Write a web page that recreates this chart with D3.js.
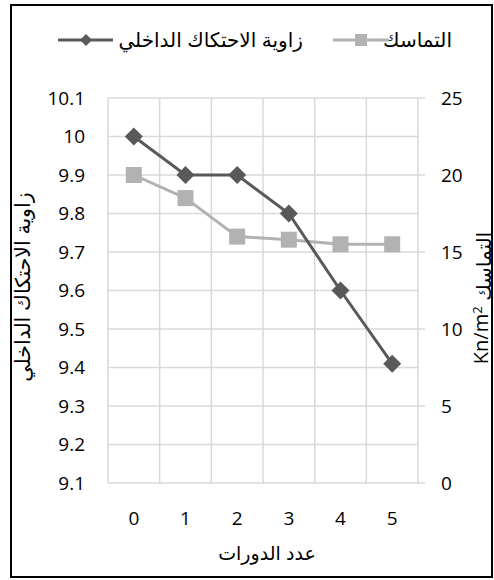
<!DOCTYPE html>
<html>
<head>
<meta charset="utf-8">
<script src="https://cdn.jsdelivr.net/npm/d3@7/dist/d3.min.js"></script>
<style>
  html, body { margin: 0; padding: 0; background: #fff; }
  svg { display: block; }
</style>
</head>
<body>
<svg id="chart" width="494" height="580"></svg>
<script>
// Number of cycles (x categories)
const cycles = [0, 1, 2, 3, 4, 5];
// Internal friction angle (left axis)
const frictionAngle = [10.0, 9.9, 9.9, 9.8, 9.6, 9.41];
// Cohesion, Kn/m² (right axis)
const cohesion = [20.0, 18.5, 16.0, 15.8, 15.5, 15.5];
// Axis ticks
const leftTicks = [9.1, 9.2, 9.3, 9.4, 9.5, 9.6, 9.7, 9.8, 9.9, 10.0, 10.1];
const rightTicks = [0, 5, 10, 15, 20, 25];

const frictionName = "زاوية الاحتكاك الداخلي";
const cohesionName = "التماسك";
const xTitle = "عدد الدورات";

const darkColor = "#595959";
const lightColor = "#b2b2b2";
const gridColor = "#d9d9d9";
const numFont = "'Open Sans', 'Liberation Sans', sans-serif";
const arFont = "'Liberation Sans', 'DejaVu Sans', sans-serif";

const svg = d3.select("#chart");

// Outer frame
svg.append("rect")
  .attr("x", 11).attr("y", 5).attr("width", 481).attr("height", 572)
  .attr("fill", "#fff").attr("stroke", "#000").attr("stroke-width", 2);

const plot = { left: 108, right: 418, top: 98, bottom: 483 };

const x = d3.scaleBand().domain(cycles).range([plot.left, plot.right]).padding(0);
const yL = d3.scaleLinear().domain([9.1, 10.1]).range([plot.bottom, plot.top]);
const yR = d3.scaleLinear().domain([0, 25]).range([plot.bottom, plot.top]);
const cx = d => x(d) + x.bandwidth() / 2;

// Horizontal gridlines
svg.append("g").selectAll("line").data(leftTicks).join("line")
  .attr("x1", plot.left).attr("x2", plot.right)
  .attr("y1", d => yL(d)).attr("y2", d => yL(d))
  .attr("stroke", gridColor).attr("stroke-width", 1.5);

// Vertical gridlines between categories
const bounds = cycles.map(c => x(c)).concat([plot.right]);
svg.append("g").selectAll("line").data(bounds).join("line")
  .attr("x1", d => d).attr("x2", d => d)
  .attr("y1", plot.top).attr("y2", plot.bottom)
  .attr("stroke", gridColor).attr("stroke-width", 1.5);

// Right axis tick marks
svg.append("g").selectAll("line").data(rightTicks).join("line")
  .attr("x1", plot.right).attr("x2", plot.right + 7)
  .attr("y1", d => yR(d)).attr("y2", d => yR(d))
  .attr("stroke", gridColor).attr("stroke-width", 1.5);

// Left tick labels
svg.append("g").selectAll("text").data(leftTicks).join("text")
  .attr("x", 85).attr("y", d => yL(d)).attr("dy", "0.36em")
  .attr("text-anchor", "end")
  .style("font-family", numFont).style("font-size", "19px").attr("fill", "#000")
  .text(d => d3.format("~g")(d));

// Right tick labels
svg.append("g").selectAll("text").data(rightTicks).join("text")
  .attr("x", 441).attr("y", d => yR(d)).attr("dy", "0.36em")
  .attr("text-anchor", "start")
  .style("font-family", numFont).style("font-size", "19px").attr("fill", "#000")
  .text(d => d);

// X tick labels
svg.append("g").selectAll("text").data(cycles).join("text")
  .attr("x", d => cx(d)).attr("y", 518).attr("dy", "0.36em")
  .attr("text-anchor", "middle")
  .style("font-family", numFont).style("font-size", "19px").attr("fill", "#000")
  .text(d => d);

// X axis title
svg.append("text")
  .attr("x", (plot.left + plot.right) / 2 + 4).attr("y", 553).attr("dy", "0.36em")
  .attr("text-anchor", "middle")
  .style("font-family", arFont).style("font-size", "19px").attr("fill", "#000")
  .text(xTitle);

// Left axis title
svg.append("text")
  .attr("transform", `translate(23,287) rotate(-90)`)
  .attr("dy", "0.36em").attr("text-anchor", "middle")
  .style("font-family", arFont).style("font-size", "20.5px").attr("fill", "#000")
  .text(frictionName);

// Right axis title
const rt = svg.append("text")
  .attr("transform", `translate(481,298) rotate(-90)`)
  .attr("dy", "0.36em").attr("text-anchor", "middle")
  .style("font-family", numFont).style("font-size", "20px").attr("fill", "#000");
rt.append("tspan").text("Kn/m");
rt.append("tspan").attr("dy", "-0.45em").style("font-size", "13px").text("2");
rt.append("tspan").attr("dy", "0.45em").style("font-family", arFont).text(" " + cohesionName);

// Series lines
const lineL = d3.line().x((d, i) => cx(cycles[i])).y(d => yL(d));
const lineR = d3.line().x((d, i) => cx(cycles[i])).y(d => yR(d));

svg.append("path").datum(cohesion).attr("d", lineR)
  .attr("fill", "none").attr("stroke", lightColor).attr("stroke-width", 3);
svg.append("g").selectAll("rect").data(cohesion).join("rect")
  .attr("x", (d, i) => cx(cycles[i]) - 8).attr("y", d => yR(d) - 8)
  .attr("width", 16).attr("height", 16).attr("fill", lightColor);

svg.append("path").datum(frictionAngle).attr("d", lineL)
  .attr("fill", "none").attr("stroke", darkColor).attr("stroke-width", 3);
const diamond = s => `M0,${-s}L${s},0L0,${s}L${-s},0Z`;
svg.append("g").selectAll("path").data(frictionAngle).join("path")
  .attr("transform", (d, i) => `translate(${cx(cycles[i])},${yL(d)})`)
  .attr("d", diamond(9)).attr("fill", darkColor);

// Legend
const legend = svg.append("g");
const legendY = 40;
// cohesion item
legend.append("line").attr("x1", 333).attr("x2", 389).attr("y1", legendY).attr("y2", legendY)
  .attr("stroke", lightColor).attr("stroke-width", 3);
legend.append("rect").attr("x", 355).attr("y", legendY - 6).attr("width", 12).attr("height", 12)
  .attr("fill", lightColor);
legend.append("text").attr("x", 452).attr("y", legendY).attr("dy", "0.36em")
  .attr("text-anchor", "end")
  .style("font-family", arFont).style("font-size", "20px").attr("fill", "#000")
  .text(cohesionName);
// friction item
legend.append("line").attr("x1", 58).attr("x2", 113).attr("y1", legendY).attr("y2", legendY)
  .attr("stroke", darkColor).attr("stroke-width", 3);
legend.append("path").attr("transform", `translate(86,${legendY})`).attr("d", diamond(6))
  .attr("fill", darkColor);
legend.append("text").attr("x", 303).attr("y", legendY).attr("dy", "0.36em")
  .attr("text-anchor", "end")
  .style("font-family", arFont).style("font-size", "20px").attr("fill", "#000")
  .text(frictionName);
</script>
</body>
</html>
